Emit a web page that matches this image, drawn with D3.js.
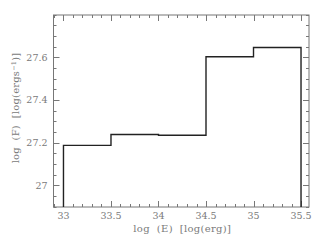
<!DOCTYPE html>
<html>
<head>
<meta charset="utf-8">
<script src="https://cdn.jsdelivr.net/npm/d3@7"></script>
<style>
  body { margin: 0; background: white; }
  svg { display: block; }
  text { white-space: pre; }
</style>
</head>
<body>
<svg id="chart"></svg>
<script>
// bin edges in log E and the step height of each bin
let binEdges = [33, 33.5, 34, 34.5, 35, 35.5];
let logF = [27.187, 27.238, 27.234, 27.602, 27.646];
let xTicks = [33, 33.5, 34, 34.5, 35, 35.5];
let yTicks = [27, 27.2, 27.4, 27.6];

function createGraph() {
  let width = 323;
  let height = 242;
  let margin = { top: 15, bottom: 35, left: 53.5, right: 14 };
  let grey = '#777';
  let textGrey = '#7a7a7a';
  let font = 'DejaVu Serif, serif';

  let svg = d3.select('#chart');
  svg.selectAll('*').remove();
  svg.attr('width', width).attr('height', height);

  let xScale = d3.scaleLinear()
    .domain([32.895, 35.584])
    .range([margin.left, width - margin.right]);

  let yScale = d3.scaleLinear()
    .domain([26.898, 27.798])
    .range([height - margin.bottom, margin.top]);

  let x0 = margin.left, x1 = width - margin.right;
  let y0 = height - margin.bottom, y1 = margin.top;

  // frame
  svg.append('rect')
    .attr('x', x0).attr('y', y1)
    .attr('width', x1 - x0).attr('height', y0 - y1)
    .attr('fill', 'none')
    .attr('stroke', grey)
    .attr('stroke-width', 1);

  // inward ticks on all sides
  let xMinor = d3.range(32.9, 35.59, 0.1).map(d => +d.toFixed(2));
  let yMinor = d3.range(26.9, 27.8, 0.05).map(d => +d.toFixed(2));
  let ticks = svg.append('g').attr('stroke', grey).attr('stroke-width', 1);

  xMinor.forEach(v => {
    let major = xTicks.some(t => Math.abs(t - v) < 1e-6);
    let len = major ? 6 : 3;
    let x = Math.round(xScale(v)) + 0.5;
    ticks.append('line').attr('x1', x).attr('x2', x).attr('y1', y0).attr('y2', y0 - len);
    ticks.append('line').attr('x1', x).attr('x2', x).attr('y1', y1).attr('y2', y1 + len);
  });

  yMinor.forEach(v => {
    let major = yTicks.some(t => Math.abs(t - v) < 1e-6);
    let len = major ? 6 : 3;
    let y = Math.round(yScale(v)) + 0.5;
    ticks.append('line').attr('y1', y).attr('y2', y).attr('x1', x0).attr('x2', x0 + len);
    ticks.append('line').attr('y1', y).attr('y2', y).attr('x1', x1).attr('x2', x1 - len);
  });

  // tick labels
  svg.append('g').selectAll('text')
    .data(xTicks)
    .enter()
    .append('text')
    .attr('x', d => xScale(d))
    .attr('y', y0 + 12)
    .attr('text-anchor', 'middle')
    .style('font-family', font)
    .style('font-size', '9.5px')
    .style('fill', textGrey)
    .text(d => String(d));

  svg.append('g').selectAll('text')
    .data(yTicks)
    .enter()
    .append('text')
    .attr('x', x0 - 6)
    .attr('y', d => yScale(d) + 3.5)
    .attr('text-anchor', 'end')
    .style('font-family', font)
    .style('font-size', '9.5px')
    .style('fill', textGrey)
    .text(d => String(d));

  // axis titles
  svg.append('text')
    .attr('x', (x0 + x1) / 2 + 1)
    .attr('y', y0 + 25)
    .attr('text-anchor', 'middle')
    .style('font-family', font)
    .style('font-size', '10px')
    .style('letter-spacing', '0.3px')
    .style('fill', textGrey)
    .text('log  (E)  [log(erg)]');

  let yLabel = svg.append('text')
    .attr('transform', `translate(19, ${(y0 + y1) / 2 - 3}) rotate(-90)`)
    .attr('text-anchor', 'middle')
    .style('font-family', font)
    .style('font-size', '10px')
    .style('letter-spacing', '0.2px')
    .style('fill', textGrey);
  yLabel.append('tspan').text('log  (F)  [log(ergs');
  yLabel.append('tspan').attr('dy', -3.5).style('font-size', '6.5px').text('\u22121');
  yLabel.append('tspan').attr('dy', 3.5).text(')]');

  // step histogram
  let pts = [[binEdges[0], yScale.domain()[0]]];
  logF.forEach((v, i) => {
    pts.push([binEdges[i], v]);
    pts.push([binEdges[i + 1], v]);
  });
  pts.push([binEdges[binEdges.length - 1], yScale.domain()[0]]);

  let line = d3.line()
    .x(d => xScale(d[0]))
    .y(d => yScale(d[1]));

  svg.append('path')
    .datum(pts)
    .attr('d', line)
    .attr('fill', 'none')
    .attr('stroke', '#222')
    .attr('stroke-width', 1.4);
}

createGraph();
</script>
</body>
</html>
